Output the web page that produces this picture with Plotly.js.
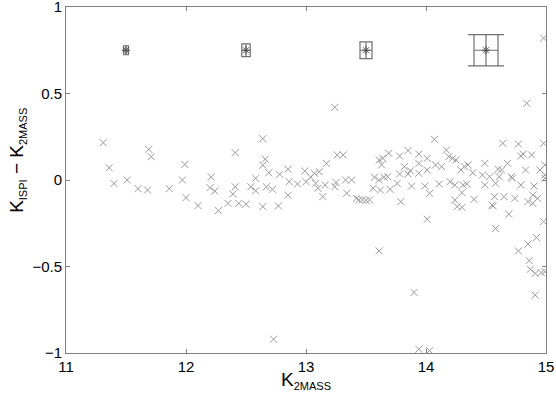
<!DOCTYPE html>
<html>
<head>
<meta charset="utf-8">
<script src="https://cdn.plot.ly/plotly-3.0.1.min.js"></script>
<style>
  html, body { margin: 0; padding: 0; background: #fff; }
  #chart { width: 556px; height: 395px; }
</style>
</head>
<body>
<div id="chart"></div>
<script>
// K_2MASS vs (K_ISPI - K_2MASS)
const kMass = [
  11.31, 11.69, 11.71, 11.36, 11.99, 11.51, 11.40, 11.97, 12.21, 11.60,
  11.68, 11.86, 12.20, 12.24, 12.00, 12.10, 12.27,
  13.24, 12.64, 12.41, 12.66, 12.64, 12.69, 12.78, 12.85, 12.58, 12.41,
  12.39, 12.35, 12.44, 12.50, 12.54, 12.58, 12.67, 12.72, 12.64, 12.77,
  12.85, 12.86, 12.93, 12.99, 13.00, 13.04, 13.08, 13.10, 13.07, 13.11,
  13.17, 13.16, 13.14, 13.24, 13.25, 13.26, 13.31, 13.33, 13.38, 13.34,
  13.42, 13.44, 13.47, 13.50, 13.53, 13.57, 13.56, 13.62, 13.65, 13.61,
  13.61, 13.64, 13.63, 13.61, 12.73,
  14.98, 14.84, 14.07, 14.64, 14.77, 14.98, 13.69, 13.78, 13.85, 13.94,
  14.01, 14.17, 14.19, 14.22, 14.25, 14.08, 13.94, 14.01, 13.82, 13.87,
  13.85, 13.78, 13.68, 13.76, 13.70, 13.79, 13.88, 13.94, 13.99, 14.03,
  14.01, 14.11, 14.13, 14.20, 14.24, 14.29, 14.32, 14.35, 14.31, 14.34,
  14.30, 14.24, 14.26, 14.30, 14.40, 14.39, 14.49, 14.47, 14.49, 14.53,
  14.58, 14.60, 14.63, 14.68, 14.71, 14.61, 14.57, 14.55, 14.56, 14.65,
  14.74, 14.69, 14.58, 14.79, 14.81, 14.88, 14.83, 14.79, 14.72, 14.90,
  14.85, 14.89, 14.93, 14.89, 14.95, 14.99, 14.99, 14.99, 14.98, 14.92,
  14.85, 14.77, 14.86, 14.87, 14.91, 14.96, 14.99, 14.91, 13.90, 13.94,
  14.03
];
const kDiff = [
  0.216, 0.177, 0.135, 0.071, 0.090, 0.000, -0.020, 0.000, 0.017, -0.050,
  -0.058, -0.050, -0.044, -0.064, -0.102, -0.148, -0.177,
  0.420, 0.239, 0.158, 0.120, 0.085, 0.042, 0.033, 0.062, 0.010, -0.039,
  -0.081, -0.135, -0.135, -0.140, -0.039, -0.062, -0.039, -0.054, -0.154, -0.150,
  -0.088, -0.010, -0.023, 0.052, -0.010, 0.016, -0.019, -0.048, 0.039, 0.048,
  0.096, -0.029, -0.096, -0.039, -0.015, 0.145, 0.145, 0.000, 0.000, -0.077,
  -0.106, -0.115, -0.115, -0.118, -0.115, 0.016, -0.048, -0.058, 0.016, 0.000,
  0.116, 0.125, 0.087, -0.410, -0.920,
  0.820, 0.443, 0.235, 0.212, 0.208, 0.212, 0.154, 0.139, 0.170, 0.150,
  0.125, 0.173, 0.135, 0.125, 0.116, 0.087, 0.096, 0.058, 0.077, 0.054,
  0.035, 0.035, 0.019, -0.020, -0.054, -0.125, -0.035, 0.039, -0.035, -0.077,
  -0.227, -0.023, 0.077, -0.010, -0.029, 0.058, 0.077, 0.087, -0.029, -0.023,
  -0.073, -0.116, -0.154, -0.158, -0.112, 0.042, 0.096, 0.029, -0.029, 0.019,
  -0.019, 0.062, 0.058, 0.096, 0.019, 0.019, -0.096, -0.145, -0.150, -0.096,
  -0.106, -0.197, -0.280, 0.139, 0.150, 0.145, 0.058, -0.029, 0.010, -0.035,
  -0.125, -0.087, -0.106, -0.135, 0.058, 0.029, 0.087, 0.010, -0.240, -0.333,
  -0.370, -0.410, -0.466, -0.516, -0.540, -0.535, -0.530, -0.665, -0.650, -0.978,
  -0.986
];

// typical errors per magnitude bin (shown at the top)
const binMag = [11.5, 12.5, 13.5, 14.5];
const binLevel = [0.75, 0.75, 0.75, 0.75];
const binErrMag = [0.02, 0.035, 0.05, 0.1];
const binErrDiff = [0.026, 0.037, 0.048, 0.09];

const xTickVals = [11, 12, 13, 14, 15];
const yTickVals = [-1, -0.5, 0, 0.5, 1];
const yTickText = ['\u22121', '\u22120.5', '0', '0.5', '1'];

const xCaps = [4.5, 6.5, 8.5, 16];
const yCaps = [3, 4.5, 6.5, 18];

const FONT = 'Liberation Sans, Arial, Helvetica, sans-serif';

const data = [{
  x: kMass,
  y: kDiff,
  type: 'scatter',
  mode: 'markers',
  marker: {
    symbol: 'x-thin-open',
    size: 7,
    color: '#9a9a9a',
    line: {color: '#9a9a9a', width: 1}
  },
  hoverinfo: 'x+y'
}];

binMag.forEach((m, i) => {
  data.push({
    x: [m],
    y: [binLevel[i]],
    type: 'scatter',
    mode: 'markers',
    marker: {
      symbol: 'asterisk-open',
      size: 7,
      color: '#505050',
      line: {color: '#505050', width: 1}
    },
    error_x: {type: 'data', array: [binErrMag[i]], visible: true,
              color: '#707070', thickness: 1.2, width: xCaps[i]},
    error_y: {type: 'data', array: [binErrDiff[i]], visible: true,
              color: '#707070', thickness: 1.2, width: yCaps[i]},
    hoverinfo: 'x+y'
  });
});

const axisCommon = {
  showgrid: false,
  zeroline: false,
  showline: true,
  linecolor: '#808080',
  linewidth: 1,
  mirror: 'ticks',
  ticks: 'inside',
  ticklen: 4,
  tickcolor: '#808080',
  ticklabeloverflow: 'allow',
  tickfont: {family: FONT, size: 15, color: '#000'}
};

const sub = s => '<sub><span style="font-size:11px">' + s + '</span></sub>';

const layout = {
  width: 556,
  height: 395,
  margin: {l: 66, r: 10, t: 7, b: 42},
  paper_bgcolor: '#fff',
  plot_bgcolor: '#fff',
  showlegend: false,
  font: {family: FONT, size: 15, color: '#000'},
  xaxis: Object.assign({}, axisCommon, {range: [11, 15], tickvals: xTickVals}),
  yaxis: Object.assign({}, axisCommon, {range: [-1, 1], tickvals: yTickVals, ticktext: yTickText}),
  annotations: [
    {
      text: 'K' + sub('2MASS'),
      xref: 'paper', yref: 'paper',
      x: 0.5, y: -0.04,
      xanchor: 'center', yanchor: 'top',
      showarrow: false,
      font: {family: FONT, size: 19, color: '#000'}
    },
    {
      text: 'K' + sub('ISPI') + ' \u2212 K' + sub('2MASS'),
      xref: 'paper', yref: 'paper',
      x: -0.072, y: 0.558,
      xanchor: 'right', yanchor: 'middle',
      textangle: -90,
      showarrow: false,
      font: {family: FONT, size: 19, color: '#000'}
    }
  ]
};

Plotly.newPlot('chart', data, layout, {displayModeBar: false, staticPlot: true});
</script>
</body>
</html>
